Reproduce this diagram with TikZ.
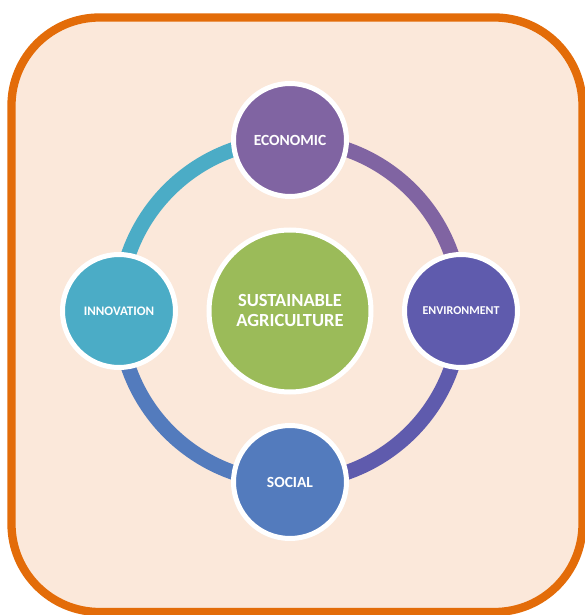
\documentclass[tikz,border=0pt]{standalone}
\usepackage{fontspec}
\setmainfont{Carlito}
\usepackage{tikz}
\usetikzlibrary{shapes}
\pgfdeclarelayer{bg}
\pgfdeclarelayer{ring}
\pgfsetlayers{bg,ring,main}
\definecolor{frameorange}{HTML}{E36C09}
\definecolor{framefill}{HTML}{FBE8DA}
\definecolor{ecopurple}{HTML}{8064A2}
\definecolor{envindigo}{HTML}{5F5BAD}
\definecolor{socblue}{HTML}{537BBD}
\definecolor{innocyan}{HTML}{4BACC6}
\definecolor{coregreen}{HTML}{9BBB59}
\newcommand{\ringr}{171}
\newcommand{\ringw}{15pt}
\newcommand{\rimw}{5pt}

\begin{document}
\begin{tikzpicture}[x = 1pt, y = 1pt]
                %\draw[help lines] (-290,-304) grid (294,311);
                \useasboundingbox (-290, -304) rectangle (294, 311);
                \tikzset{ringnode/.style = {circle, draw = white, line width = \rimw, inner sep = 0pt,
                        minimum size = 113pt, text = white, font = \bfseries\fontsize{15.5}{18}\selectfont}}
                \tikzset{arcline/.style = {line width = \ringw}}
                \begin{pgfonlayer}{bg}
                    \draw[frameorange, fill = framefill, line width = 8.3pt, rounded corners = 88pt]
                        (-278.5, -301) rectangle (292.5, 293.5);
                \end{pgfonlayer}

                \node[ringnode, fill = coregreen, minimum size = 162pt, align = center,
                      font = \bfseries\fontsize{18.5}{20}\selectfont] (core) at (0, 0) {SUSTAINABLE\\AGRICULTURE};

                \node[ringnode, fill = ecopurple] (eco) at (0, \ringr) {ECONOMIC};
                \node[ringnode, fill = envindigo, font = \bfseries\fontsize{12}{14}\selectfont] (env) at (\ringr, 0) {ENVIRONMENT};
                \node[ringnode, fill = socblue] (soc) at (0, -\ringr) {SOCIAL};
                \node[ringnode, fill = innocyan, font = \bfseries\fontsize{13}{15}\selectfont] (inno) at (-\ringr, 0) {INNOVATION};

                \begin{pgfonlayer}{ring}
                    \draw[arcline, ecopurple] (eco.center) to[out = 0, in = 90] (env.center);
                    \draw[arcline, envindigo] (env.center) to[out = 270, in = 0] (soc.center);
                    \draw[arcline, socblue] (soc.center) to[out = 180, in = 270] (inno.center);
                    \draw[arcline, innocyan] (inno.center) to[out = 90, in = 180] (eco.center);
                \end{pgfonlayer}

        \end{tikzpicture}
\end{document}
